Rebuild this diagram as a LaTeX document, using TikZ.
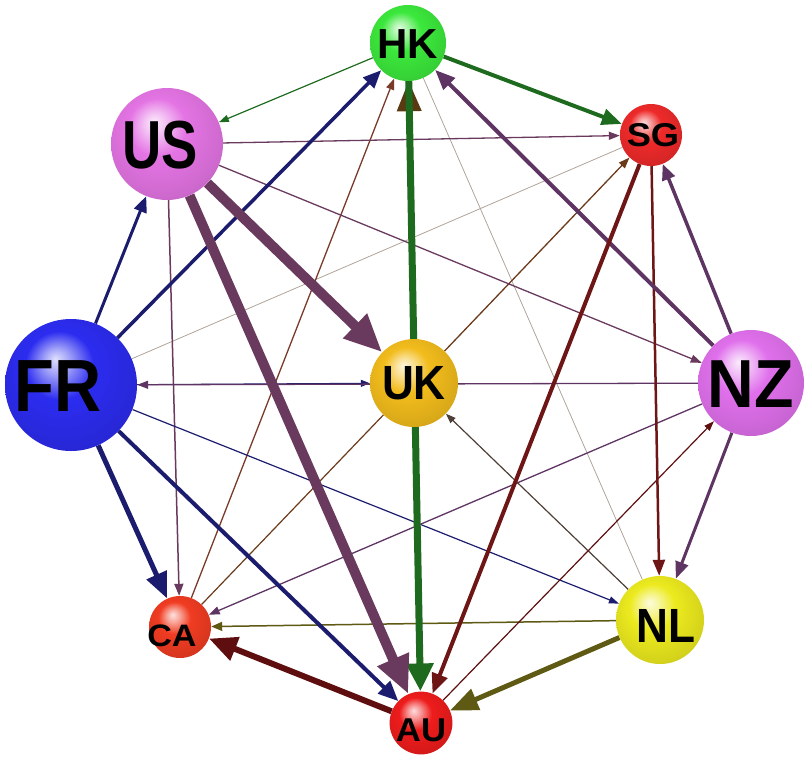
\documentclass[tikz,border=0pt]{standalone}
\usepackage{fontspec}
\setmainfont{Liberation Sans}
\usepackage{graphicx}
\usetikzlibrary{arrows.meta,backgrounds}
\definecolor{navyE}{HTML}{1C1C6E}
\definecolor{purpE}{HTML}{6A3A5E}
\definecolor{nzE}{HTML}{5E3462}
\definecolor{grnE}{HTML}{1E6A1E}
\definecolor{redE}{HTML}{6E1616}
\definecolor{marE}{HTML}{5E0E0E}
\definecolor{oliE}{HTML}{5E5A14}
\definecolor{brnE}{HTML}{6A3A1A}
\definecolor{hkbE}{HTML}{5A3A12}
\definecolor{caE}{HTML}{7A3A2A}
\definecolor{ltE}{HTML}{B0A49A}
\definecolor{nlE}{HTML}{4E4038}
\definecolor{cHK}{HTML}{3CE83C}
\definecolor{cSG}{HTML}{EE2A2A}
\definecolor{cUS}{HTML}{E474E4}
\definecolor{cFR}{HTML}{2C2CF0}
\definecolor{cNZ}{HTML}{E070EC}
\definecolor{cUK}{HTML}{F2BC1C}
\definecolor{cCA}{HTML}{F03C22}
\definecolor{cNL}{HTML}{ECEA1E}
\definecolor{cAU}{HTML}{EE1C1C}
\colorlet{ballc}{red}
\pgfdeclareradialshading[ballc]{myball}{\pgfpoint{-6bp}{10bp}}{%
 color(0bp)=(ballc!15!white); color(5bp)=(ballc!45!white); color(13bp)=(ballc);
 color(28bp)=(ballc!90!black); color(40bp)=(ballc!75!black); color(50bp)=(ballc!75!black)}
\newcommand\mylab[5]{\fontsize{#1pt}{#1pt}\selectfont\hspace*{\dimexpr #2pt*2\relax}\scalebox{#3}[1]{#5}\rule{0pt}{\dimexpr #1pt*716/1000+#4pt*2\relax}}
\tikzset{
 nd/.style 2 args={circle, inner sep=0pt, minimum size=#1pt, shading=myball,
   /utils/exec={\colorlet{ballc}{#2}}, text=black, font=\bfseries},
 ed/.style n args={4}{draw=#1, line width=#2pt, -{Triangle[length=#3pt,width=#4pt]}},
 ln/.style 2 args={draw=#1, line width=#2pt},
}
\begin{document}
\begin{tikzpicture}[x=1pt,y=-1pt]
\useasboundingbox (0,0) rectangle (805,758);
% nodes
\node[nd={76}{cHK}] (HK) at (408,43) {\mylab{42}{0}{1}{0}{HK}};
\node[nd={62}{cSG}] (SG) at (651,135) {\mylab{33}{2}{1.1}{0}{SG}};
\node[nd={112}{cUS}] (US) at (167,144) {\mylab{68}{-7}{0.8}{0}{US}};
\node[nd={132}{cFR}] (FR) at (71,385) {\mylab{74}{-13}{0.88}{0}{FR}};
\node[nd={106}{cNZ}] (NZ) at (751,383) {\mylab{68}{0}{0.95}{0}{NZ}};
\node[nd={88}{cUK}] (UK) at (414,383) {\mylab{48}{0}{0.92}{0}{UK}};
\node[nd={62}{cCA}] (CA) at (180,627) {\mylab{31}{-8}{1.1}{9}{CA}};
\node[nd={88}{cNL}] (NL) at (660,620) {\mylab{48}{6}{0.92}{5}{NL}};
\node[nd={62}{cAU}] (AU) at (421,723) {\mylab{33}{0}{1.05}{7}{AU}};
% edges (behind nodes)
\begin{scope}[on background layer]
% thin
\draw[ln={ltE}{0.8}] (SG) -- (FR);
\draw[ln={ltE}{0.8}] (NL) -- (HK);
\draw[ln={brnE}{1.2}] (UK) -- (CA);
\draw[ed={grnE}{1.2}{10}{7}] (HK) -- (US);
\draw[ed={caE}{1.3}{11}{8}] (CA) -- (HK);
\draw[ed={purpE}{1.3}{11}{8}] (US) -- (SG);
\draw[ed={brnE}{1.3}{11}{8}] (UK) -- (SG);
\draw[ed={purpE}{1.3}{11}{8}] (US) -- (NZ);
\draw[ed={purpE}{1.5}{12}{9}] (US) -- (CA);
\draw[ed={navyE}{1.2}{10}{7}] (FR) -- (NL);
\draw[ed={navyE}{1}{9}{7}] (FR) -- (UK);
\draw[ed={nzE}{1.3}{11}{8}] (NZ) -- (FR);
\draw[ed={oliE}{1.5}{11}{9}] (NL) -- (CA);
\draw[ed={nzE}{1.3}{11}{8}] (NZ) -- (CA);
\draw[ed={nlE}{1.2}{10}{7}] (NL) -- (UK);
\draw[ed={marE}{1.2}{10}{7}] (AU) -- (NZ);
% medium
\draw[ed={redE}{2.5}{16}{12}] (SG) -- (NL);
\draw[ed={nzE}{3}{17}{13}] (NZ) -- (NL);
\draw[ed={navyE}{3}{16}{13}] (FR) -- (US);
\draw[ed={nzE}{3.5}{16}{13}] (NZ) -- (SG);
\draw[ed={navyE}{3.5}{18}{15}] (FR) -- (HK);
\draw[ed={nzE}{4}{20}{16}] (NZ) -- (HK);
\draw[ed={grnE}{4}{20}{16}] (HK) -- (SG);
\draw[ed={redE}{4}{20}{16}] (SG) -- (AU);
\draw[ed={navyE}{4}{20}{17}] (FR) -- (AU);
% thick
\draw[ed={navyE}{5}{26}{21}] (FR) -- (CA);
\draw[ed={oliE}{5}{28}{22}] (NL) -- (AU);
\draw[ed={marE}{6}{28}{24}] (AU) -- (CA);
\draw[ed={hkbE}{4}{30}{24}] (UK) -- (HK);
\draw[ed={grnE}{7}{28}{26}] (HK) -- (AU);
\draw[ed={purpE}{10}{38}{32}] (US) -- (UK);
\draw[ed={purpE}{10}{38}{32}] (US) -- (AU);
\end{scope}
\end{tikzpicture}
\end{document}
